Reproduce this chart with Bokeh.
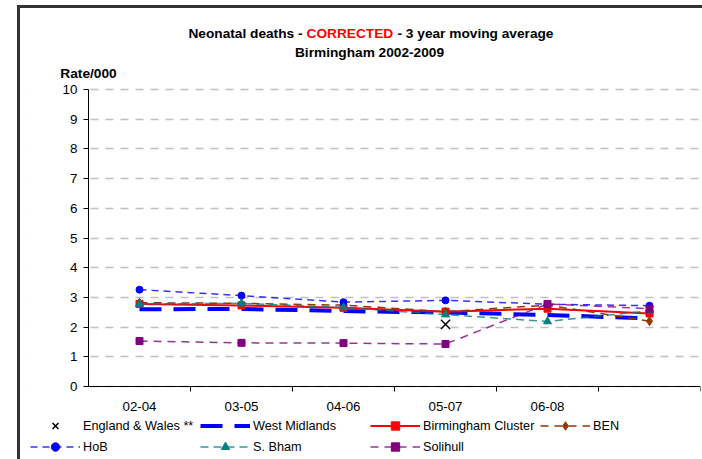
from bokeh.plotting import figure
from bokeh.models import FixedTicker, Legend, LegendItem, Label, BoxAnnotation, Range1d
from bokeh.core.properties import value
from bokeh.embed import file_html
from bokeh.resources import INLINE

nan = float("nan")

# ---- data ----
periods = ["02-04", "03-05", "04-06", "05-07", "06-08", ""]
england_wales = [nan, nan, nan, 2.09, nan, nan]
west_midlands = [2.60, 2.61, 2.54, 2.49, 2.41, 2.29]
birmingham_cluster = [2.78, 2.73, 2.65, 2.52, 2.62, 2.46]
ben = [2.82, 2.80, 2.74, 2.52, 2.74, 2.20]
hob = [3.26, 3.06, 2.84, 2.90, 2.77, 2.72]
s_bham = [2.78, 2.80, 2.66, 2.42, 2.19, 2.55]
solihull = [1.53, 1.47, 1.46, 1.43, 2.78, 2.62]
y_ticks = [0, 1, 2, 3, 4, 5, 6, 7, 8, 9, 10]
y_max = 10

FONT = "Liberation Sans"

# ---- layout (pixels) ----
W, H = 702, 459
FRAME_L, FRAME_R = 30, 700                  # plotting frame (full height)
AXIS_X, AXIS_TOP, AXIS_BOT = 88, 89, 386    # where the axes are drawn
n = len(periods)
px_per_x = (FRAME_R - AXIS_X) / n
x_start = -(AXIS_X - FRAME_L) / px_per_x
px_per_y = (AXIS_BOT - AXIS_TOP) / y_max
y_start = -(H - AXIS_BOT) / px_per_y
y_end = AXIS_BOT / px_per_y

p = figure(width=W, height=H, output_backend="svg", toolbar_location=None,
           title=None,
           x_range=Range1d(x_start, n), y_range=Range1d(y_start, y_end),
           min_border_left=FRAME_L, min_border_right=W - FRAME_R,
           min_border_top=0, min_border_bottom=0,
           styles={"background": "linear-gradient(#333333,#333333) 17px 5px / 3px 470px no-repeat, "
                                 "linear-gradient(#333333,#333333) 17px 5px / 700px 3px no-repeat, white"})
p.outline_line_color = None
p.background_fill_alpha = 0
p.border_fill_alpha = 0

xs = [i + 0.5 for i in range(n)]

# ---- axes ----
p.yaxis.fixed_location = 0
p.yaxis.bounds = (0, y_max)
p.yaxis.ticker = FixedTicker(ticks=y_ticks)
p.yaxis.axis_line_color = "black"
p.yaxis.major_tick_line_color = "black"
p.yaxis.major_tick_out = 5
p.yaxis.major_tick_in = 0
p.yaxis.minor_tick_line_color = None
p.yaxis.major_label_standoff = 6
p.yaxis.major_label_text_font = FONT
p.yaxis.major_label_text_font_size = "13.4px"
p.yaxis.major_label_text_color = "black"

# category axis: tick marks between categories, labels centred on categories
p.xaxis.fixed_location = 0
p.xaxis.bounds = (0, n)
p.xaxis.ticker = FixedTicker(ticks=[], minor_ticks=list(range(1, n + 1)))
p.xaxis.axis_line_color = "black"
p.xaxis.major_tick_out = 0
p.xaxis.major_tick_in = 0
p.xaxis.minor_tick_out = 5
p.xaxis.minor_tick_in = 0
p.xaxis.minor_tick_line_color = "black"
p.xaxis.major_label_standoff = 0

lab_x = [x for x, t in zip(xs, periods) if t]
lab_t = [t for t in periods if t]
p.text(x=lab_x, y=[0] * len(lab_x), text=lab_t, y_offset=20, text_align="center",
       text_baseline="middle", text_font=value(FONT), text_font_size="13.3px",
       text_color="black")

p.xgrid.visible = False
p.ygrid.grid_line_color = "#c0c0c0"
p.ygrid.grid_line_dash = "8 7"
p.ygrid.grid_line_width = 1.5

# hide the grid lines left of the value axis
p.add_layout(BoxAnnotation(right=0, top=y_max + 0.2, fill_color="white", fill_alpha=1,
                           line_color=None, level="underlay"))

# ---- series ----
ew = p.scatter(xs, england_wales, marker="x", size=13, line_color="black", line_width=1.5)

wm = p.line(xs, west_midlands, line_color="#0000FF", line_width=4, line_dash="22 12")

bc_l = p.line(xs, birmingham_cluster, line_color="#FF0000", line_width=2)
bc_m = p.scatter(xs, birmingham_cluster, marker="square", size=7,
                 fill_color="#FF0000", line_color="#FF0000")

ben_l = p.line(xs, ben, line_color="#993300", line_width=1.5, line_dash="8 6")
ben_m = p.scatter(xs, ben, marker="diamond", size=9,
                  fill_color="#993300", line_color="#993300")

hob_l = p.line(xs, hob, line_color="#0000FF", line_width=1.5, line_dash="7 5", line_alpha=0.8)
hob_m = p.scatter(xs, hob, marker="circle", size=7,
                  fill_color="#0000FF", line_color="#0000FF")

sb_l = p.line(xs, s_bham, line_color="#008080", line_width=1.5, line_dash="8 5", line_alpha=0.8)
sb_m = p.scatter(xs, s_bham, marker="triangle", size=8,
                 fill_color="#008080", line_color="#008080")

so_l = p.line(xs, solihull, line_color="#800080", line_width=1.5, line_dash="8 6", line_alpha=0.8)
so_m = p.scatter(xs, solihull, marker="square", size=7,
                 fill_color="#800080", line_color="#800080")

items = [
    LegendItem(label="England & Wales **", renderers=[ew]),
    LegendItem(label="West Midlands", renderers=[wm]),
    LegendItem(label="Birmingham Cluster", renderers=[bc_l, bc_m]),
    LegendItem(label="BEN", renderers=[ben_l, ben_m]),
    LegendItem(label="HoB", renderers=[hob_l, hob_m]),
    LegendItem(label="S. Bham", renderers=[sb_l, sb_m]),
    LegendItem(label="Solihull", renderers=[so_l, so_m]),
]
legend = Legend(items=items, location=(30 - FRAME_L, H - 457), orientation="horizontal", ncols=4,
                glyph_width=50, glyph_height=21, label_height=21, label_width=117,
                label_standoff=3, spacing=0, padding=0, margin=0,
                border_line_color=None, background_fill_alpha=0,
                label_text_font=FONT, label_text_font_size="12.7px",
                label_text_color="black")
p.add_layout(legend)

# ---- titles ----
def lab(px, py, text, align, color="black", bold=True, size="13.7px"):
    p.add_layout(Label(x=px - FRAME_L, y=H - py, x_units="screen", y_units="screen",
                       text=text, text_align=align, text_baseline="middle",
                       text_font=FONT, text_font_size=size,
                       text_font_style="bold" if bold else "normal",
                       text_color=color))

lab(302, 33, "Neonatal deaths -", "right")
lab(306, 33, "CORRECTED", "left", color="#FF0000")
lab(397, 33, "- 3 year moving average", "left")
lab(369, 52, "Birmingham 2002-2009", "center")
lab(88, 73, "Rate/000", "center")

open("out.html", "w").write(file_html(p, INLINE))
